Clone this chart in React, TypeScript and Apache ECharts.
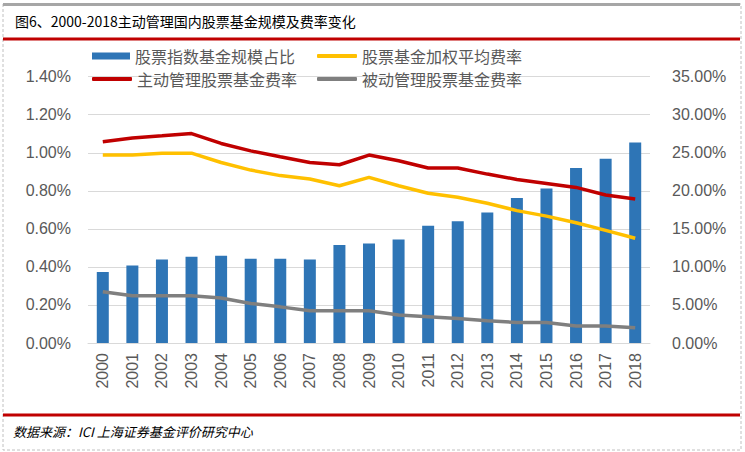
import React, { useEffect, useRef } from "react";
import * as echarts from "echarts";

const years = ["2000","2001","2002","2003","2004","2005","2006","2007","2008","2009","2010","2011","2012","2013","2014","2015","2016","2017","2018"];
// 股票指数基金规模占比 (%), right axis
const indexShare = [9.33,10.2,10.96,11.35,11.48,11.08,11.08,10.96,12.87,13.09,13.6,15.4,16.0,17.15,19.07,20.3,23.0,24.2,26.35];
// 股票基金加权平均费率 (%), left axis
const weightedFee = [0.988,0.988,0.998,0.998,0.949,0.909,0.88,0.862,0.827,0.871,0.827,0.787,0.766,0.735,0.696,0.667,0.632,0.592,0.551];
// 主动管理股票基金费率 (%)
const activeFee = [1.058,1.078,1.089,1.101,1.049,1.01,0.979,0.949,0.937,0.988,0.958,0.92,0.92,0.888,0.86,0.839,0.818,0.778,0.757];
// 被动管理股票基金费率 (%)
const passiveFee = [0.269,0.248,0.248,0.248,0.237,0.208,0.19,0.169,0.169,0.169,0.147,0.138,0.129,0.117,0.108,0.108,0.089,0.089,0.08];

const names = ["股票指数基金规模占比", "股票基金加权平均费率", "主动管理股票基金费率", "被动管理股票基金费率"];
const title = "图6、2000-2018主动管理国内股票基金规模及费率变化";
const source = "数据来源：ICI 上海证券基金评价研究中心";

const CJK = '"Noto Sans CJK SC", "Noto Sans", sans-serif';
const NUM = '"Liberation Sans", Arial, sans-serif';

export default function App() {
  const ref = useRef<HTMLDivElement>(null);
  useEffect(() => {
    document.body.style.margin = "0";
    const chart = echarts.init(ref.current!, null, { renderer: "svg" });
    const legendText = { color: "#595959", fontSize: 16, fontFamily: CJK };
    const mkLegend = (name: string, left: number, top: number, isBar: boolean) => ({
      data: [name],
      left,
      top,
      icon: isBar ? "rect" : "roundRect",
      itemWidth: isBar ? 38 : 40,
      itemHeight: isBar ? 7 : 4,
      itemGap: 0,
      padding: 0,
      textStyle: legendText,
    });
    chart.setOption({
      animation: false,
      backgroundColor: "#fff",
      grid: { left: 88, right: 95, top: 76.7, bottom: 109 },
      legend: [
        mkLegend(names[0], 92, 48, true),
        mkLegend(names[1], 317, 48, false),
        mkLegend(names[2], 92, 71, false),
        mkLegend(names[3], 317, 71, false),
      ],
      xAxis: {
        type: "category",
        data: years,
        axisLine: { lineStyle: { color: "#D9D9D9", width: 1 } },
        axisTick: { show: false },
        axisLabel: { rotate: 90, color: "#595959", fontSize: 16, fontFamily: NUM, margin: 10 },
      },
      yAxis: [
        {
          type: "value",
          min: 0,
          max: 1.4,
          interval: 0.2,
          axisLine: { show: false },
          axisTick: { show: false },
          splitLine: { lineStyle: { color: "#D9D9D9", width: 1 } },
          axisLabel: { color: "#595959", fontSize: 16, fontFamily: NUM, margin: 17, formatter: (v: number) => v.toFixed(2) + "%" },
        },
        {
          type: "value",
          min: 0,
          max: 35,
          interval: 5,
          axisLine: { show: false },
          axisTick: { show: false },
          splitLine: { show: false },
          axisLabel: { color: "#595959", fontSize: 16, fontFamily: NUM, margin: 22, formatter: (v: number) => v.toFixed(2) + "%" },
        },
      ],
      series: [
        { name: names[0], type: "bar", yAxisIndex: 1, data: indexShare, barWidth: 12, itemStyle: { color: "#2E75B6" }, z: 2 },
        { name: names[1], type: "line", yAxisIndex: 0, data: weightedFee, showSymbol: false, symbol: "none", lineStyle: { color: "#FFC000", width: 3.5 }, itemStyle: { color: "#FFC000" }, z: 3 },
        { name: names[2], type: "line", yAxisIndex: 0, data: activeFee, showSymbol: false, symbol: "none", lineStyle: { color: "#C00000", width: 3.5 }, itemStyle: { color: "#C00000" }, z: 3 },
        { name: names[3], type: "line", yAxisIndex: 0, data: passiveFee, showSymbol: false, symbol: "none", lineStyle: { color: "#7F7F7F", width: 3.5 }, itemStyle: { color: "#7F7F7F" }, z: 3 },
      ],
      graphic: [
        { type: "rect", shape: { x: 3, y: 4, width: 738, height: 446 }, style: { fill: "none", stroke: "#C0C0C0", lineWidth: 1, lineDash: [3, 2] }, silent: true },
        { type: "rect", shape: { x: 3, y: 3, width: 737, height: 3 }, style: { fill: "#A6A6A6" }, silent: true },
        { type: "rect", shape: { x: 3, y: 37.5, width: 737, height: 3 }, style: { fill: "#C00000" }, silent: true },
        { type: "rect", shape: { x: 3, y: 413.5, width: 737, height: 3 }, style: { fill: "#C00000" }, silent: true },
        { type: "text", left: 15, top: 14, style: { text: title, fill: "#000", font: `14px ${CJK}` }, silent: true },
        { type: "text", left: 13, top: 425, style: { text: source, fill: "#000", font: `italic 13px ${CJK}` }, silent: true },
      ],
    });
    return () => chart.dispose();
  }, []);
  return <div ref={ref} style={{ width: 745, height: 452 }} />;
}
